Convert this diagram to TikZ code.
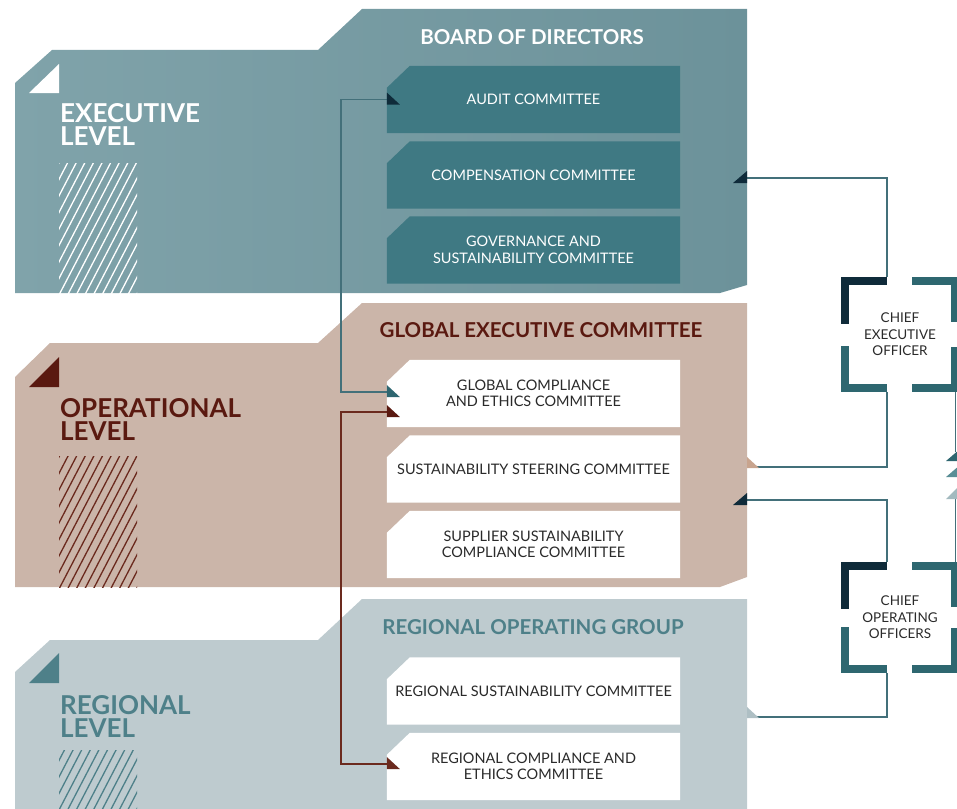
\documentclass[tikz,border=0pt]{standalone}
\usepackage{fontspec}
\setmainfont{Lato}
\usetikzlibrary{calc}
\pgfdeclarelayer{panel}
\pgfdeclarelayer{boxfill}
\pgfsetlayers{panel,boxfill,main}
\definecolor{execP}{HTML}{80A3AA}
\definecolor{execPd}{HTML}{6C929A}
\definecolor{execBox}{HTML}{3F7983}
\definecolor{opP}{HTML}{CBB5A9}
\definecolor{regP}{HTML}{BECBCF}
\definecolor{navy}{HTML}{0F2B3A}
\definecolor{maroonT}{HTML}{5A1910}
\definecolor{maroonL}{HTML}{6B2A1E}
\definecolor{tealT}{HTML}{4E8089}
\definecolor{tealL}{HTML}{43707A}
\definecolor{brk}{HTML}{2E6770}
\definecolor{boxtxt}{HTML}{2A2A2A}
\definecolor{tanT}{HTML}{C8A48E}
\definecolor{greyTri}{HTML}{AEBFC4}
\definecolor{triA}{HTML}{2E6670}
\definecolor{triB}{HTML}{5A8E96}
\definecolor{triC}{HTML}{A3BABF}
\newcommand{\chfill}[2]{\begin{pgfonlayer}{boxfill}\fill[#2] ([yshift=-22pt]#1.north west) -- ([xshift=23pt]#1.north west) -- (#1.north east) -- (#1.south east) -- (#1.south west) -- cycle;\end{pgfonlayer}}
\newcommand{\hatchbox}[3]{\begin{scope}\clip (59,#1) rectangle (137,#2);
\foreach \k in {-9,...,10} {\draw[#3, line width=1.3pt] (59+\k*8.6, #2+2) -- ++(-62.5:200);}\end{scope}}
\newcommand{\arrL}[2]{\fill[#2] (#1) ++(0,-7) -- ++(0,12) -- ++(13,0) -- cycle;}
\newcommand{\arrR}[2]{\fill[#2] (#1) ++(0,-7) -- ++(0,12) -- ++(-14,0) -- cycle;}
\newcommand{\brackets}[1]{%
\draw[navy, line width=8pt] ([xshift=46pt,yshift=-4pt]#1.north west) -- ([xshift=4pt,yshift=-4pt]#1.north west) -- ([xshift=4pt,yshift=-47pt]#1.north west);
\draw[brk, line width=8pt] ([xshift=4pt,yshift=46pt]#1.south west) -- ([xshift=4pt,yshift=4pt]#1.south west) -- ([xshift=46pt,yshift=4pt]#1.south west);
\draw[brk, line width=8pt] ([xshift=-47pt,yshift=-4pt]#1.north east) -- ([xshift=-4pt,yshift=-4pt]#1.north east) -- ([xshift=-4pt,yshift=-45pt]#1.north east);
\draw[brk, line width=8pt] ([xshift=-4pt,yshift=45pt]#1.south east) -- ([xshift=-4pt,yshift=4pt]#1.south east) -- ([xshift=-47pt,yshift=4pt]#1.south east);}
\begin{document}
\begin{tikzpicture}[x=1pt,y=-1pt,
  box/.style={minimum width=293pt, minimum height=67pt, inner sep=0pt, align=center, font=\fontsize{14.5}{16.5}\selectfont},
  head/.style={inner sep=0pt, font=\bfseries\fontsize{20.5}{20.5}\selectfont},
  lvl/.style={anchor=north west, inner sep=0pt, align=left, font=\bfseries\fontsize{26}{23.5}\selectfont},
  officer/.style={minimum width=118pt, minimum height=115pt, inner sep=0pt, align=center, text=boxtxt, font=\fontsize{13.5}{16.5}\selectfont},
  conn/.style={tealL, line width=1.4pt},
  mconn/.style={maroonL, line width=1.4pt}]
\useasboundingbox (0,0) rectangle (957,808);
\clip (0,0) rectangle (957,808);
% panels
\begin{pgfonlayer}{panel}
\shade[left color=execP, right color=execPd] (15,83) -- (52,50) -- (318,50) -- (362,9) -- (747,9) -- (747,285) -- (720,293) -- (15,293) -- cycle;
\fill[opP] (15,377) -- (50,343) -- (318,343) -- (362,303) -- (747,303) -- (747,577) -- (720,587) -- (15,587) -- cycle;
\fill[regP] (15,672) -- (50,640) -- (318,640) -- (362,599) -- (747,599) -- (747,830) -- (15,830) -- cycle;
\end{pgfonlayer}
% level markers
\fill[white] (29,93) -- (59,93) -- (59,64) -- cycle;
\fill[maroonT] (29,387) -- (59,387) -- (59,357) -- cycle;
\fill[tealT] (29,683) -- (59,683) -- (59,653) -- cycle;
\hatchbox{163}{293}{white}
\hatchbox{456}{587}{maroonL}
\hatchbox{750}{808}{tealT}
\node[lvl, text=white] (lexec) at (60,103) {EXECUTIVE\\LEVEL};
\node[lvl, text=maroonT] (lop) at (60,398) {OPERATIONAL\\LEVEL};
\node[lvl, text=tealT] (lreg) at (60,695) {REGIONAL\\LEVEL};
% headings
\node[head, text=white] (bod) at (532,37) {BOARD OF DIRECTORS};
\node[head, text=maroonT] (gec) at (541,330) {GLOBAL EXECUTIVE COMMITTEE};
\node[head, text=tealT] (rog) at (533,627) {REGIONAL OPERATING GROUP};
% committee boxes
\node[box, text=white] (audit) at (533.5,99.5) {AUDIT COMMITTEE}; \chfill{audit}{execBox}
\node[box, text=white] (comp) at (533.5,175) {COMPENSATION COMMITTEE}; \chfill{comp}{execBox}
\node[box, text=white] (gov) at (533.5,250) {GOVERNANCE AND\\SUSTAINABILITY COMMITTEE}; \chfill{gov}{execBox}
\node[box, text=boxtxt] (gce) at (533.5,393.5) {GLOBAL COMPLIANCE\\AND ETHICS COMMITTEE}; \chfill{gce}{white}
\node[box, text=boxtxt] (ssc) at (533.5,469) {SUSTAINABILITY STEERING COMMITTEE}; \chfill{ssc}{white}
\node[box, text=boxtxt] (supp) at (533.5,544.5) {SUPPLIER SUSTAINABILITY\\COMPLIANCE COMMITTEE}; \chfill{supp}{white}
\node[box, text=boxtxt] (rsc) at (533.5,691) {REGIONAL SUSTAINABILITY COMMITTEE}; \chfill{rsc}{white}
\node[box, text=boxtxt] (rce) at (533.5,766.5) {REGIONAL COMPLIANCE AND\\ETHICS COMMITTEE}; \chfill{rce}{white}
% left connectors
\coordinate (lx) at (341,0);
\draw[conn] (audit.west) -- (audit.west -| lx) -- ([yshift=1.5pt]gce.west -| lx) -- ([yshift=1.5pt]gce.west);
\arrL{audit.west}{navy}
\arrL{[yshift=1.5pt]gce.west}{triA}
\draw[mconn] ([yshift=-18.5pt]gce.west) -- ([yshift=-18.5pt]gce.west -| lx) -- ([yshift=2.5pt]rce.west -| lx) -- ([yshift=2.5pt]rce.west);
\arrL{[yshift=-18.5pt]gce.west}{maroonT}
\arrL{[yshift=2.5pt]rce.west}{maroonL}
% officers
\node[officer] (ceo) at (900,334.5) {CHIEF\\EXECUTIVE\\OFFICER};
\node[officer, minimum height=111pt] (coo) at (900,617.5) {CHIEF\\OPERATING\\OFFICERS};
\brackets{ceo}
\brackets{coo}
% right connectors
\coordinate (cx) at (887,0);
\coordinate (compIn) at (747,178);
\coordinate (opIn) at (747,467);
\coordinate (opIn2) at (747,500);
\coordinate (regIn) at (747,717);
\draw[conn] (ceo.north -| cx) |- (compIn);
\arrR{compIn}{navy}
\draw[conn] (ceo.south -| cx) |- (opIn);
\fill[tanT] (747,457) -- (747,468) -- (759,468) -- cycle;
\draw[conn] (coo.north -| cx) |- (opIn2);
\arrR{opIn2}{navy}
\draw[conn] (coo.south -| cx) |- (regIn);
\fill[greyTri] (747,707) -- (747,718) -- (759,718) -- cycle;
% right edge stack
\coordinate (rx) at (955,0);
\coordinate (stTop) at (955,452);
\coordinate (stBot) at (955,497);
\draw[conn, line width=1pt] (ceo.south -| rx) -- (stTop);
\draw[conn, line width=1pt] (stBot) -- (coo.north -| rx);
\fill[triA] (946,461) -- (960,461) -- (960,449) -- cycle;
\fill[triB] (946,477) -- (960,477) -- (960,465) -- cycle;
\fill[triC] (946,499) -- (960,499) -- (960,485) -- cycle;
\end{tikzpicture}
\end{document}
